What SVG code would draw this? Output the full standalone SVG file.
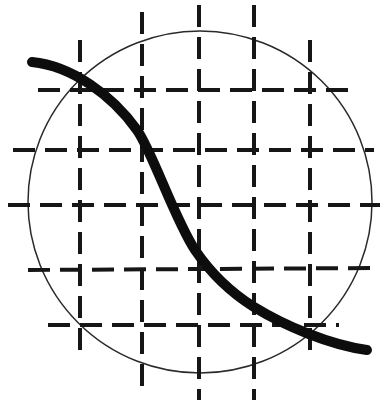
<svg xmlns="http://www.w3.org/2000/svg" width="387" height="404" viewBox="0 0 387 404">
<style>
.grid{stroke:#161616;stroke-width:4;stroke-dasharray:22 10;fill:none;stroke-linecap:butt}
.circ{stroke:#2a2a2a;stroke-width:1.5;fill:none}
.curve{stroke:#0d0d0d;stroke-width:10;fill:none;stroke-linecap:round}
</style>
<rect width="387" height="404" fill="#fff"/>
<g id="circle"><ellipse class="circ" cx="200" cy="202" rx="172" ry="171"/></g>
<g id="grid-h">
<line class="grid" x1="38" y1="90" x2="352" y2="90"/>
<line class="grid" x1="13" y1="150" x2="374" y2="150"/>
<line class="grid" x1="8" y1="205" x2="380" y2="205"/>
<line class="grid" x1="28" y1="270" x2="380" y2="268"/>
<line class="grid" x1="48" y1="325" x2="339" y2="325"/>
</g>
<g id="grid-v">
<line class="grid" x1="80" y1="40" x2="80" y2="350"/>
<line class="grid" x1="142" y1="12" x2="142" y2="395"/>
<line class="grid" x1="199" y1="5" x2="199" y2="400"/>
<line class="grid" x1="254" y1="5" x2="254" y2="400"/>
<line class="grid" x1="310" y1="40" x2="310" y2="355"/>
</g>
<g id="curve"><path class="curve" d="M32,62 C72,66 112,95 137,130 C152,151 175,220 195,250 C210,272 230,292 254,307 C285,326 330,345 367,350"/></g>
</svg>
